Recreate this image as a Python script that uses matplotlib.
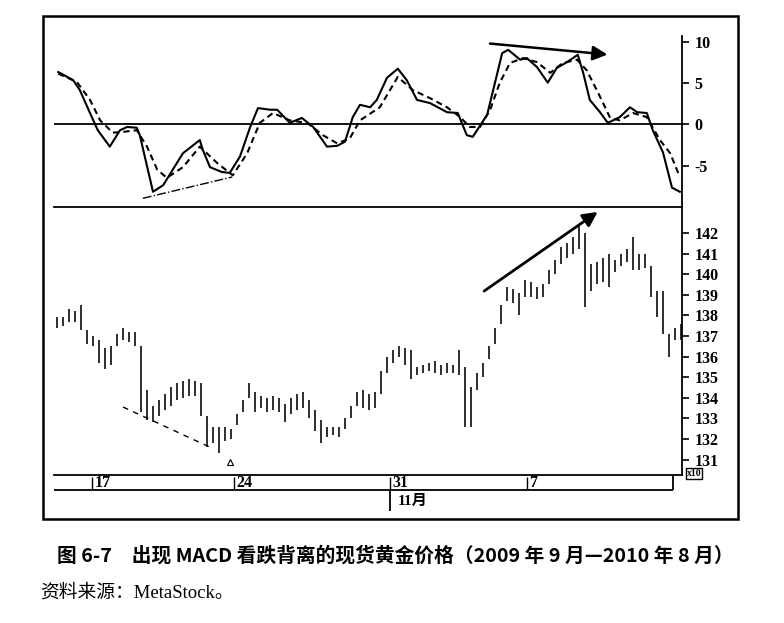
import matplotlib.pyplot as plt
from matplotlib.patches import Rectangle

plt.rcParams['font.family'] = ['Noto Sans CJK SC', 'DejaVu Sans']
plt.rcParams['axes.unicode_minus'] = False

W, H = 784, 623

# price bars, one per index (0..104)
bar_high = [137.9, 137.9, 138.3, 138.2, 138.5, 137.3, 137.0, 136.8, 136.4, 136.5,
            137.1, 137.4, 137.2, 137.2, 136.5, 134.4, 133.6, 133.9, 134.2, 134.5,
            134.7, 134.8, 134.9, 134.8, 134.7, 133.1, 132.6, 132.6, 132.6, 132.5,
            133.2, 133.9, 134.7, 134.3, 134.1, 134.0, 134.1, 134.0, 133.7, 134.0,
            134.2, 134.3, 133.9, 133.4, 132.9, 132.6, 132.6, 132.6, 133.0, 133.6,
            134.3, 134.4, 134.2, 134.3, 135.3, 136.0, 136.3, 136.5, 136.4, 136.3,
            135.5, 135.6, 135.7, 135.8, 135.6, 135.7, 135.6, 136.3, 135.5, 134.5,
            135.2, 135.7, 136.5, 137.4, 138.5, 139.4, 139.3, 139.1, 139.7, 139.6,
            139.4, 139.5, 140.2, 140.7, 141.3, 141.5, 141.8, 142.4, 142.0, 140.5,
            140.6, 140.8, 141.0, 140.7, 141.0, 141.2, 141.8, 141.0, 141.0, 140.4,
            139.2, 139.2, 137.1, 137.4, 137.6]
bar_low = [137.4, 137.5, 137.7, 137.7, 137.3, 136.6, 136.5, 135.7, 135.4, 135.6,
           136.5, 136.8, 136.7, 136.5, 133.3, 132.9, 132.8, 133.1, 133.4, 133.6,
           133.9, 134.0, 134.1, 134.1, 133.1, 131.6, 131.8, 131.3, 131.9, 132.0,
           132.7, 133.3, 134.0, 133.3, 133.5, 133.3, 133.4, 133.3, 132.8, 133.2,
           133.4, 133.5, 133.0, 132.4, 131.8, 132.1, 132.2, 132.1, 132.5, 133.0,
           133.6, 133.5, 133.4, 133.5, 134.2, 135.2, 135.7, 136.0, 135.6, 134.9,
           135.1, 135.2, 135.3, 135.2, 135.1, 135.2, 135.2, 135.1, 132.6, 132.6,
           134.4, 135.0, 135.9, 136.6, 137.6, 138.7, 138.6, 138.0, 138.9, 138.9,
           138.8, 138.9, 139.5, 140.0, 140.5, 140.8, 141.0, 141.2, 138.4, 139.2,
           139.5, 139.6, 139.4, 140.1, 140.4, 140.6, 140.2, 140.2, 140.3, 138.9,
           137.9, 137.1, 136.0, 136.8, 136.8]

macd_x = [0.2, 2.7, 3.8, 5.5, 6.8, 8.8, 10.5, 11.7, 13.3, 13.8, 16.0, 17.7, 19.3,
          21.0, 23.8, 24.3, 25.5, 27.5, 28.8, 30.5, 32.2, 33.5, 35.5, 36.7, 38.8,
          40.8, 42.7, 45.0, 46.7, 48.0, 49.3, 50.5, 52.2, 53.3, 55.0, 56.8, 58.3,
          60.0, 62.2, 65.0, 66.8, 68.3, 69.3, 71.7, 73.0, 74.2, 75.2, 77.2, 78.3,
          80.0, 81.8, 83.3, 85.0, 86.8, 87.7, 88.8, 90.5, 91.8, 93.8, 95.5, 96.7,
          98.3, 99.3, 101.0, 102.5, 103.8]
macd_val = [6.4, 5.4, 4.2, 1.4, -0.7, -2.7, -0.7, -0.3, -0.4, -1.3, -8.2, -7.4, -5.5,
            -3.5, -1.9, -3.1, -5.2, -5.8, -5.9, -3.9, -0.3, 2.0, 1.8, 1.8, 0.2,
            0.8, -0.3, -2.7, -2.6, -2.1, 0.9, 2.4, 2.1, 3.0, 5.7, 6.8, 5.4,
            3.0, 2.6, 1.5, 1.4, -1.3, -1.5, 1.2, 5.1, 8.7, 9.1, 7.9, 8.1,
            7.0, 5.1, 6.9, 7.6, 8.5, 6.3, 3.0, 1.5, 0.2, 0.9, 2.1, 1.5,
            1.4, -0.7, -3.4, -7.7, -8.2]

signal_x = [0.2, 3.3, 5.5, 7.2, 9.3, 11.0, 13.3, 15.0, 16.7, 18.3, 21.0, 23.8, 26.7,
            29.3, 31.7, 33.8, 36.0, 38.8, 41.7, 44.3, 46.7, 48.8, 50.5, 53.8, 56.8,
            59.3, 62.2, 65.0, 67.2, 68.8, 70.5, 72.2, 73.8, 75.5, 77.7, 80.0, 82.2,
            84.3, 86.7, 88.3, 90.5, 92.2, 93.8, 96.0, 98.3, 100.5, 102.2, 103.8]
signal_val = [6.2, 5.2, 3.0, 0.5, -1.0, -0.9, -0.7, -2.7, -5.5, -6.5, -5.2, -2.7, -4.7,
              -6.2, -3.5, 0.2, 1.4, 0.5, 0.2, -1.3, -2.3, -1.7, 0.5, 2.1, 5.8,
              4.2, 3.2, 2.1, 0.9, -0.3, -0.3, 1.8, 5.1, 7.5, 8.1, 7.6, 6.3,
              7.5, 7.9, 6.6, 3.4, 0.8, 0.5, 1.4, 0.9, -1.9, -3.5, -6.4]

macd_ticks = [-5, 0, 5, 10]
price_ticks = [131, 132, 133, 134, 135, 136, 137, 138, 139, 140, 141, 142]
date_pos = [5.8, 29.5, 55.5, 78.3]
date_labels = ['17', '24', '31', '7']
month_pos = 55.5
month_label = '11月'

# hand-drawn divergence lines
macd_arrow = [(71.7, 9.9), (92.2, 8.5)]
macd_trend = [(14.3, -9.0), (29.2, -6.4)]
price_arrow = [(70.8, 139.1), (90.5, 143.1)]
price_trend = [(11.0, 133.55), (25.5, 131.6)]

caption = '图 6-7　出现 MACD 看跌背离的现货黄金价格（2009 年 9 月—2010 年 8 月）'
source = '资料来源：MetaStock。'


def box(x0, y0, x1, y1):
    return [x0 / W, 1 - y1 / H, (x1 - x0) / W, (y1 - y0) / H]


serif = ['Liberation Serif', 'Noto Sans CJK SC']
fig = plt.figure(figsize=(W / 100, H / 100), dpi=100)

xlim = (-0.5, 104.17)

# ── MACD panel ──────────────────────────────────────────────
ax1 = fig.add_axes(box(54, 36, 682, 207))
ax1.plot(macd_x, macd_val, color='black', lw=1.5)
ax1.plot(signal_x, signal_val, color='black', lw=1.5, ls=(0, (3, 2)))
ax1.axhline(0, color='black', lw=1.3)
ax1.annotate('', xy=macd_arrow[1], xytext=macd_arrow[0],
             arrowprops=dict(arrowstyle='-|>', lw=1.8, color='black', mutation_scale=22))
ax1.plot(*zip(*macd_trend), color='black', lw=1.0, ls='-.')
ax1.set_xlim(*xlim)
ax1.set_ylim(-10.06, 10.79)
ax1.set_yticks(macd_ticks)

# ── price panel ─────────────────────────────────────────────
ax2 = fig.add_axes(box(54, 207, 682, 475))
ax2.vlines(range(len(bar_high)), bar_low, bar_high, color='black', lw=1.15)
ax2.annotate('', xy=price_arrow[1], xytext=price_arrow[0],
             arrowprops=dict(arrowstyle='-|>', lw=2.0, color='black', mutation_scale=22))
ax2.plot(*zip(*price_trend), color='black', lw=1.0, ls=(0, (4, 4)))
ax2.plot([28.8], [130.9], marker='^', ms=5, color='black', mfc='none', mew=0.8)
ax2.set_xlim(*xlim)
ax2.set_ylim(130.25, 143.26)
ax2.set_yticks(price_ticks)

for ax in (ax1, ax2):
    ax.set_xticks([])
    ax.yaxis.tick_right()
    ax.tick_params(axis='y', direction='out', length=5, width=1.2, pad=4)
    for lab in ax.get_yticklabels():
        lab.set_fontfamily('Liberation Serif')
        lab.set_fontweight('bold')
        lab.set_fontsize(11.5)
    ax.spines['left'].set_visible(False)
    ax.spines['top'].set_visible(False)
    ax.spines['right'].set_linewidth(1.3)
    ax.spines['bottom'].set_linewidth(1.3)
    ax.patch.set_alpha(0)

# ── date strip (y in pixel units) ───────────────────────────
ax3 = fig.add_axes(box(54, 475, 682, 515))
ax3.set_xlim(*xlim)
ax3.set_ylim(515, 475)
ax3.axis('off')
ax3.hlines(490, xlim[0], 102.67, color='black', lw=1.3)
ax3.vlines(102.67, 475, 490, color='black', lw=1.3)
ax3.vlines(date_pos, 477, 489, color='black', lw=1.0)
for p, lab in zip(date_pos, date_labels):
    ax3.text(p + 0.4, 483, lab, ha='left', va='center', fontsize=11.5,
             family=serif, fontweight='bold')
ax3.vlines(month_pos, 491, 511, color='black', lw=1.3)
ax3.text(month_pos + 1.3, 501, month_label, ha='left', va='center', fontsize=11,
         family=serif, fontweight='bold')

fig.text(694 / W, 1 - 473.5 / H, 'x10', ha='center', va='center', fontsize=7,
         family=serif, fontweight='bold',
         bbox=dict(boxstyle='square,pad=0.12', fc='white', ec='black', lw=1))

fig.add_artist(Rectangle((43 / W, 1 - 519 / H), (738 - 43) / W, (519 - 16) / H,
                         transform=fig.transFigure, fill=False, ec='black', lw=1.8))

fig.text(57 / W, 1 - 556 / H, caption, ha='left', va='center', fontsize=14.2,
         fontweight='bold')
fig.text(40 / W, 1 - 593 / H, source, ha='left', va='center', fontsize=13.5,
         family=serif)

fig.savefig('out.png', dpi=100)
